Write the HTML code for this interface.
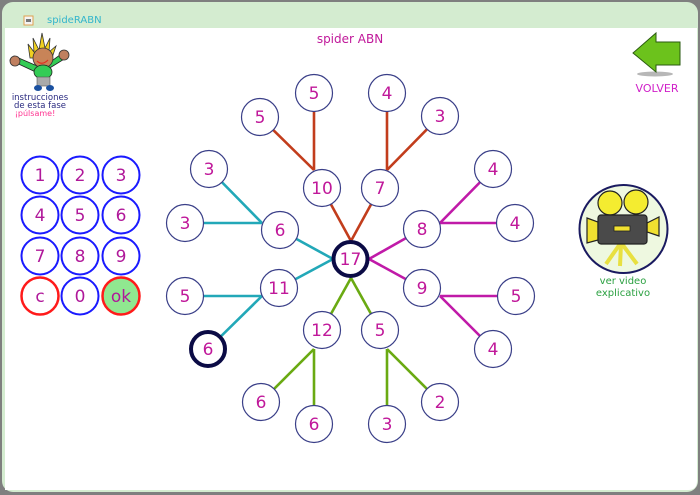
<!DOCTYPE html>
<html><head><meta charset="utf-8"><style>
html,body{margin:0;padding:0;background:#7f7f7f;}
svg{display:block;}
</style></head><body>
<svg width="700" height="495" viewBox="0 0 700 495" xmlns="http://www.w3.org/2000/svg">
<!-- panel -->
<rect x="2" y="2" width="696" height="490" rx="11" fill="#d4ecd0"/>
<path d="M5 28 H697 V481 Q697 490 688 490 H5 Z" fill="#ffffff"/>
<!-- title bar -->
<rect x="24" y="16" width="9" height="9" fill="#f4f4f4" stroke="#e0a050" stroke-width="1"/>
<rect x="26" y="19" width="5" height="3" fill="#777"/>
<text x="47" y="23" font-family="DejaVu Sans, sans-serif" font-size="10" fill="#33b5cc">spideRABN</text>
<text x="350" y="43" text-anchor="middle" font-family="DejaVu Sans, sans-serif" font-size="12" fill="#c0189a">spider ABN</text>

<!-- character -->
<g>
<polygon points="30,58 28,44 34,52 33,38 39,50 42,33 45,48 50,38 49,52 56,46 52,58" fill="#f0d020" stroke="#333" stroke-width="0.8"/>
<path d="M10 60 L40 74 L66 58 L64 52 L42 68 L14 56 Z" fill="#33cc55" stroke="#222" stroke-width="0.8"/>
<circle cx="43" cy="58" r="10" fill="#c88458" stroke="#333" stroke-width="0.8"/>
<path d="M37 61 Q42 66 48 60" fill="none" stroke="#e03020" stroke-width="1.2"/>
<circle cx="15" cy="61" r="5" fill="#c08060" stroke="#333" stroke-width="0.8"/>
<circle cx="64" cy="55" r="5" fill="#c08060" stroke="#333" stroke-width="0.8"/>
<ellipse cx="43" cy="72" rx="9" ry="7" fill="#33cc55" stroke="#222" stroke-width="0.8"/>
<rect x="37" y="77" width="13" height="9" fill="#aaaaaa" stroke="#555" stroke-width="0.6"/>
<ellipse cx="38" cy="88" rx="4" ry="3" fill="#1a50a0"/>
<ellipse cx="50" cy="88" rx="4" ry="3" fill="#1a50a0"/>
</g>
<text x="40" y="100" text-anchor="middle" font-family="DejaVu Sans, sans-serif" font-size="8.5" fill="#2a2a80">instrucciones</text>
<text x="40" y="108" text-anchor="middle" font-family="DejaVu Sans, sans-serif" font-size="8.5" fill="#2a2a80">de esta fase</text>
<text x="35" y="116" text-anchor="middle" font-family="DejaVu Sans, sans-serif" font-size="8" fill="#ff3390">¡púlsame!</text>

<!-- volver arrow -->
<ellipse cx="655" cy="74" rx="18" ry="2.5" fill="#999" opacity="0.7"/>
<polygon points="633,53 656,33 656,42 680,42 680,65 656,65 656,72" fill="#6cc21c" stroke="#2a5a10" stroke-width="1"/>
<text x="657" y="92" text-anchor="middle" font-family="DejaVu Sans, sans-serif" font-size="11" fill="#d020c8">VOLVER</text>

<!-- keypad -->
<g font-family="DejaVu Sans, sans-serif" font-size="17" fill="#b0189a" text-anchor="middle">
<g fill="none" stroke="#1a1aff" stroke-width="2">
<circle cx="40" cy="175" r="18.5"/><circle cx="80" cy="175" r="18.5"/><circle cx="121" cy="175" r="18.5"/>
<circle cx="40" cy="215" r="18.5"/><circle cx="80" cy="215" r="18.5"/><circle cx="121" cy="215" r="18.5"/>
<circle cx="40" cy="256" r="18.5"/><circle cx="80" cy="256" r="18.5"/><circle cx="121" cy="256" r="18.5"/>
<circle cx="80" cy="296" r="18.5"/>
</g>
<circle cx="40" cy="296" r="18.5" fill="none" stroke="#ff1a1a" stroke-width="2.5"/>
<circle cx="121" cy="296" r="18.5" fill="#90e890" stroke="#ff1a1a" stroke-width="2.5"/>
<text x="40" y="181">1</text><text x="80" y="181">2</text><text x="121" y="181">3</text>
<text x="40" y="221">4</text><text x="80" y="221">5</text><text x="121" y="221">6</text>
<text x="40" y="262">7</text><text x="80" y="262">8</text><text x="121" y="262">9</text>
<text x="40" y="302">c</text><text x="80" y="302">0</text><text x="121" y="302">ok</text>
</g>

<!-- spider lines -->
<g stroke-width="2.6" fill="none">
<g stroke="#c23d1c">
<line x1="260" y1="117" x2="314" y2="170"/><line x1="314" y1="93" x2="314" y2="170"/>
<line x1="322" y1="188" x2="351" y2="241"/><line x1="380" y1="188" x2="351" y2="241"/>
<line x1="387" y1="93" x2="387" y2="170"/><line x1="440" y1="116" x2="387" y2="170"/>
</g>
<g stroke="#22a8b8">
<line x1="209" y1="169" x2="262" y2="223"/><line x1="185" y1="223" x2="262" y2="223"/>
<line x1="280" y1="230" x2="333" y2="259"/><line x1="279" y1="288" x2="333" y2="259"/>
<line x1="185" y1="296" x2="262" y2="296"/><line x1="208" y1="349" x2="262" y2="296"/>
</g>
<g stroke="#c01aa8">
<line x1="493" y1="169" x2="440" y2="223"/><line x1="515" y1="223" x2="440" y2="223"/>
<line x1="422" y1="229" x2="369" y2="259"/><line x1="422" y1="288" x2="369" y2="259"/>
<line x1="516" y1="296" x2="440" y2="296"/><line x1="493" y1="349" x2="440" y2="296"/>
</g>
<g stroke="#6aaa12">
<line x1="322" y1="330" x2="351" y2="278"/><line x1="380" y1="330" x2="351" y2="278"/>
<line x1="314" y1="349" x2="261" y2="402"/><line x1="314" y1="349" x2="314" y2="424"/>
<line x1="387" y1="349" x2="387" y2="424"/><line x1="387" y1="349" x2="440" y2="402"/>
</g>
</g>

<!-- spider nodes -->
<g fill="#ffffff" stroke="#3a3f88" stroke-width="1.2">
<circle cx="322" cy="188" r="18.5"/><circle cx="380" cy="188" r="18.5"/>
<circle cx="280" cy="230" r="18.5"/><circle cx="422" cy="229" r="18.5"/>
<circle cx="279" cy="288" r="18.5"/><circle cx="422" cy="288" r="18.5"/>
<circle cx="322" cy="330" r="18.5"/><circle cx="380" cy="330" r="18.5"/>
<circle cx="260" cy="117" r="18.5"/><circle cx="314" cy="93" r="18.5"/>
<circle cx="387" cy="93" r="18.5"/><circle cx="440" cy="116" r="18.5"/>
<circle cx="209" cy="169" r="18.5"/><circle cx="185" cy="223" r="18.5"/>
<circle cx="493" cy="169" r="18.5"/><circle cx="515" cy="223" r="18.5"/>
<circle cx="185" cy="296" r="18.5"/><circle cx="516" cy="296" r="18.5"/>
<circle cx="493" cy="349" r="18.5"/>
<circle cx="261" cy="402" r="18.5"/><circle cx="314" cy="424" r="18.5"/>
<circle cx="387" cy="424" r="18.5"/><circle cx="440" cy="402" r="18.5"/>
</g>
<circle cx="350.5" cy="259" r="17" fill="#ffffff" stroke="#0b0b45" stroke-width="4"/>
<circle cx="208" cy="349" r="17" fill="#ffffff" stroke="#0b0b45" stroke-width="4"/>

<g font-family="DejaVu Sans, sans-serif" font-size="17" fill="#c0189a" text-anchor="middle">
<text x="350.5" y="265">17</text>
<text x="322" y="194">10</text><text x="380" y="194">7</text>
<text x="280" y="236">6</text><text x="422" y="235">8</text>
<text x="279" y="294">11</text><text x="422" y="294">9</text>
<text x="322" y="336">12</text><text x="380" y="336">5</text>
<text x="260" y="123">5</text><text x="314" y="99">5</text>
<text x="387" y="99">4</text><text x="440" y="122">3</text>
<text x="209" y="175">3</text><text x="185" y="229">3</text>
<text x="493" y="175">4</text><text x="515" y="229">4</text>
<text x="185" y="302">5</text><text x="516" y="302">5</text>
<text x="208" y="355">6</text><text x="493" y="355">4</text>
<text x="261" y="408">6</text><text x="314" y="430">6</text>
<text x="387" y="430">3</text><text x="440" y="408">2</text>
</g>

<!-- video icon -->
<circle cx="623.5" cy="229" r="44" fill="#eef8e0" stroke="#1a1a60" stroke-width="2"/>
<g stroke="#222" stroke-width="1.2">
<line x1="620" y1="244" x2="606" y2="264" stroke="#e8e040" stroke-width="4"/>
<line x1="621" y1="244" x2="620" y2="266" stroke="#e8e040" stroke-width="4"/>
<line x1="622" y1="244" x2="637" y2="264" stroke="#e8e040" stroke-width="4"/>
<polygon points="587,218 598,222 598,240 587,243" fill="#f0e030"/>
<polygon points="647,223 659,217 659,236 647,232" fill="#f0e030"/>
<circle cx="610" cy="203" r="12" fill="#f4ec30"/>
<circle cx="636" cy="202" r="12" fill="#f4ec30"/>
<rect x="598" y="215" width="49" height="29" rx="3" fill="#4a4a4a"/>
<rect x="614" y="226" width="16" height="5" fill="#f0e030" stroke-width="0.8"/>
</g>
<text x="623" y="284" text-anchor="middle" font-family="DejaVu Sans, sans-serif" font-size="10" fill="#2aa040">ver video</text>
<text x="623" y="296" text-anchor="middle" font-family="DejaVu Sans, sans-serif" font-size="10" fill="#2aa040">explicativo</text>
</svg>
</body></html>
